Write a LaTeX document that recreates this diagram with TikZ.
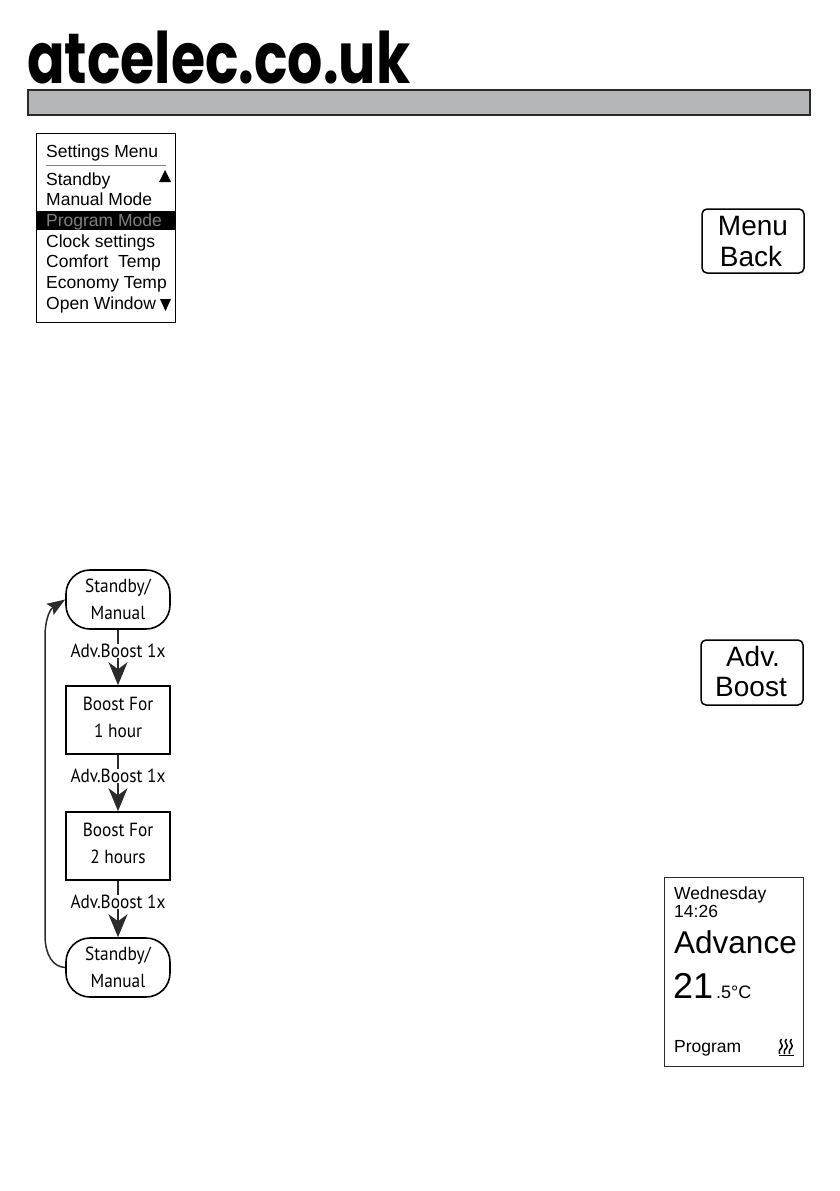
\documentclass[tikz,border=0pt]{standalone}
\usepackage{fontspec}
\setmainfont{Liberation Sans}
\newfontfamily\flowfont{PT Sans}[FakeStretch=0.91]
\newfontfamily\logofont{Poppins}[BoldFont={* Bold}]
\usetikzlibrary{arrows.meta,positioning}
\definecolor{barfill}{HTML}{B5B6B8}
\definecolor{inkdark}{HTML}{2B2B2B}
\tikzset{
  menuitem/.style={anchor=base west, inner sep=0pt, font=\fontsize{17.5}{17.5}\selectfont},
  lcdtext/.style={anchor=base west, inner sep=0pt},
  keycap/.style={draw=black, line width=1.5pt, rounded corners=5pt, minimum width=102pt, minimum height=64pt, inner sep=0pt},
  keytext/.style={anchor=base, inner sep=0pt, font=\fontsize{28}{28}\selectfont},
  flowbox/.style={draw=black, line width=1.6pt, minimum width=104pt, inner sep=0pt, align=center, font=\flowfont\fontsize{19}{26.5}\selectfont},
  flowend/.style={flowbox, rounded corners=24pt, minimum height=59pt},
  flowstep/.style={flowbox, minimum height=68pt, text depth=5pt},
  flowarrow/.style={draw=inkdark, line width=1.5pt, -{Stealth[length=23pt,width=19pt,inset=7pt]}},
  flowlabel/.style={fill=white, inner sep=0pt, minimum width=96pt, text=black, font=\flowfont\fontsize{19}{19}\selectfont}
}
\begin{document}
\begin{tikzpicture}[x=1pt, y=-1pt]
\useasboundingbox (0,0) rectangle (839,1191);
% heading
\node[anchor=base west, inner sep=0pt, font=\logofont\bfseries\fontsize{71}{71}\selectfont] (logo) at (27,83) {\scalebox{0.78}[1]{atcelec.co.uk}};
\node[draw=inkdark, fill=barfill, line width=2pt, minimum width=782pt, minimum height=25pt, inner sep=0pt] (bar) at (419,102.5) {};
% settings menu
\node[draw=black, line width=0.8pt, minimum width=139pt, minimum height=189pt, inner sep=0pt] (menu) at (106,227.5) {};
\fill[black] (37,211) rectangle (175,230);
\draw[gray, line width=0.8pt] (46,165) -- (166,165);
\node[menuitem] (title) at (46,157) {Settings Menu};
\node[menuitem] (standby) at (46,185) {Standby};
\node[menuitem] (manual) at (46,205) {Manual Mode};
\node[menuitem, text=gray] (program) at (46,226) {Program Mode};
\node[menuitem] (clock) at (46,247) {Clock settings};
\node[menuitem] (comfort) at (46,267) {Comfort\ \ Temp};
\node[menuitem] (economy) at (46,288) {Economy Temp};
\node[menuitem] (window) at (46,309) {Open Window};
\fill[black] (159,182) -- (165,170) -- (171,182) -- cycle;
\fill[black] (160,299) -- (171,299) -- (165.5,311) -- cycle;
% keys
\node[keycap] (menukey) at (753,241) {};
\node[keytext] (menutext) at (753,235) {Menu};
\node[keytext] (backtext) at (751,266) {Back};
\node[keycap, minimum height=65pt] (advkey) at (752,672.5) {};
\node[keytext] (advtext) at (753,666) {Adv.};
\node[keytext] (boosttext) at (751,696) {Boost};
% flow chart
\node[flowend] (standbyA) at (118,599.5) {Standby/\\Manual};
\node[flowstep] (boostA) at (118,720) {Boost For\\1 hour};
\node[flowstep] (boostB) at (118,846) {Boost For\\2 hours};
\node[flowend] (standbyB) at (118,967.5) {Standby/\\Manual};
\draw[flowarrow] (standbyA) -- node[pos=0.38, flowlabel] {Adv.Boost 1x} (boostA);
\draw[flowarrow] (boostA) -- node[pos=0.38, flowlabel] {Adv.Boost 1x} (boostB);
\draw[flowarrow] (boostB) -- node[pos=0.38, flowlabel] {Adv.Boost 1x} (standbyB);
\draw[draw=inkdark, line width=1.5pt, -{Stealth[length=18pt,width=13pt,inset=3pt]}] (standbyB.west) .. controls (53,967) and (45,955) .. (45,935) -- (45,636) .. controls (45,622) and (49,610) .. (standbyA.west);
% display
\node[draw=inkdark, line width=1pt, minimum width=139pt, minimum height=189pt, inner sep=0pt] (lcd) at (733.5,971.5) {};
\node[lcdtext, font=\fontsize{17.5}{17.5}\selectfont] (day) at (674,899) {Wednesday};
\node[lcdtext, font=\fontsize{17.5}{17.5}\selectfont] (time) at (674,917) {14:26};
\node[lcdtext, font=\fontsize{31.5}{31.5}\selectfont] (mode) at (674,953) {Advance};
\node[lcdtext, font=\fontsize{36}{36}\selectfont] (temp) at (673,998) {21};
\node[lcdtext, font=\fontsize{18}{18}\selectfont] (frac) at (716,998) {.5°C};
\node[lcdtext, font=\fontsize{17.5}{17.5}\selectfont] (prog) at (674,1052) {Program};
% heat symbol
\foreach \hx in {781.5,786.5,791.5}
  \draw[black, line width=1.5pt] (\hx,1039) .. controls (\hx-4,1042) and (\hx+3,1045) .. (\hx,1048) .. controls (\hx-3,1050) and (\hx-2,1052) .. (\hx-2,1054);
\draw[black, line width=1.5pt] (779,1055.5) -- (793.5,1055.5);
\end{tikzpicture}
\end{document}
